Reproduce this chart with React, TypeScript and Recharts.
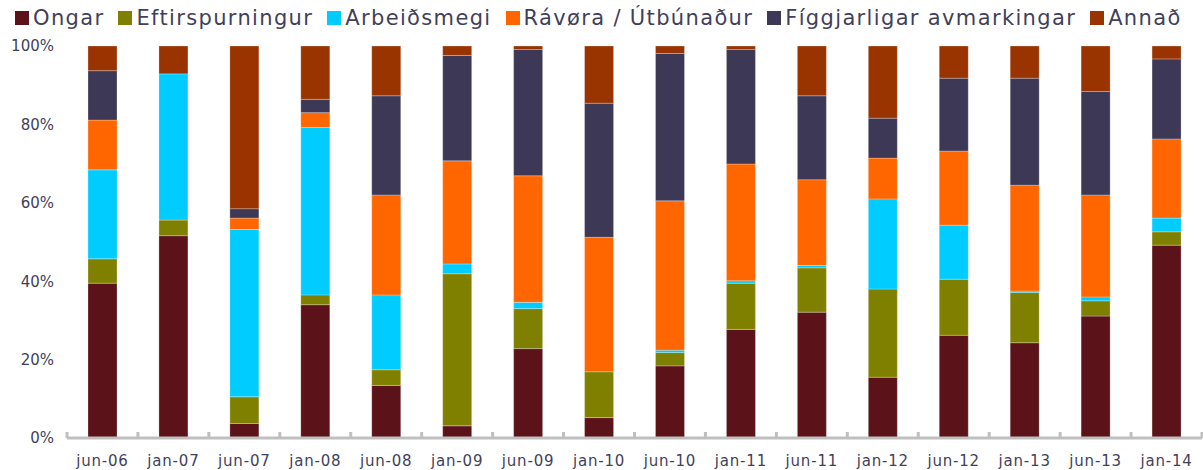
import React from 'react';
import { BarChart, Bar, XAxis, YAxis, Legend } from 'recharts';

const categories = ['jun-06', 'jan-07', 'jun-07', 'jan-08', 'jun-08', 'jan-09', 'jun-09', 'jan-10', 'jun-10', 'jan-11', 'jun-11', 'jan-12', 'jun-12', 'jan-13', 'jun-13', 'jan-14'];
const ongar = [39.5, 51.6, 3.7, 34.0, 13.4, 3.1, 22.8, 5.2, 18.4, 27.7, 32.1, 15.5, 26.2, 24.3, 31.1, 49.2];
const eftirspurningur = [6.2, 4.0, 6.8, 2.5, 4.0, 38.8, 10.2, 11.7, 3.4, 11.8, 11.3, 22.5, 14.3, 12.8, 3.9, 3.4];
const arbeidsmegi = [22.7, 37.3, 42.7, 42.7, 19.1, 2.5, 1.6, 0, 0.6, 0.6, 0.6, 23.0, 13.8, 0.4, 1.0, 3.5];
const ravora = [12.7, 0, 2.9, 3.8, 25.5, 26.3, 32.3, 34.3, 38.1, 29.8, 21.9, 10.4, 18.9, 27.0, 26.0, 20.2];
const figgjarligar = [12.6, 0, 2.4, 3.4, 25.3, 26.9, 32.2, 34.2, 37.6, 29.2, 21.4, 10.2, 18.6, 27.3, 26.4, 20.4];
const annad = [6.3, 7.1, 41.5, 13.6, 12.7, 2.4, 0.9, 14.6, 1.9, 0.9, 12.7, 18.4, 8.2, 8.2, 11.6, 3.3];
const yTicks = [0, 20, 40, 60, 80, 100];

const series = [
  { key: 'ongar', name: 'Ongar', color: '#5b1319', values: ongar },
  { key: 'eftir', name: 'Eftirspurningur', color: '#808000', values: eftirspurningur },
  { key: 'arb', name: 'Arbeiðsmegi', color: '#00ccff', values: arbeidsmegi },
  { key: 'rav', name: 'Rávøra / Útbúnaður', color: '#ff6600', values: ravora },
  { key: 'figg', name: 'Fíggjarligar avmarkingar', color: '#3c3856', values: figgjarligar },
  { key: 'annad', name: 'Annað', color: '#993300', values: annad },
];

const data = categories.map((c, i) => {
  const row: Record<string, any> = { cat: c };
  series.forEach((s) => { row[s.key] = s.values[i]; });
  return row;
});

const W = 1203;
const H = 470;
const Y_AXIS_W = 67;
const MARGIN_RIGHT = 1;
const PLOT_W = W - Y_AXIS_W - MARGIN_RIGHT;
const BAND = PLOT_W / categories.length;
const TEXT = '#423f5c';
const FONT = '"DejaVu Sans", sans-serif';
const TICK_MARGIN = 17;

const XTick = (props: any) => {
  const { x, y, payload, index } = props;
  const axisY = y - TICK_MARGIN;
  const tickLine = (tx: number) => (
    <line x1={tx} x2={tx} y1={axisY - 6} y2={axisY} stroke="#bfbfbf" strokeWidth={3} />
  );
  return (
    <g>
      {tickLine(x - BAND / 2)}
      {index === categories.length - 1 ? tickLine(x + BAND / 2) : null}
      <text x={x} y={y} dy="0.71em" textAnchor="middle" fill={TEXT} fontSize={15} fontFamily={FONT} letterSpacing={0.8}>
        {payload.value}
      </text>
    </g>
  );
};

const LegendContent = () => (
  <div style={{ height: 46, boxSizing: 'border-box', paddingTop: 8, paddingLeft: 15, display: 'flex', alignItems: 'flex-start', fontFamily: FONT }}>
    {series.map((s) => (
      <div key={s.key} style={{ display: 'flex', alignItems: 'center', height: 20, marginRight: 14 }}>
        <span style={{ display: 'inline-block', width: 14, height: 14, background: s.color, marginRight: 4 }} />
        <span style={{ fontSize: 21, color: TEXT, letterSpacing: 1.35, lineHeight: '20px', whiteSpace: 'nowrap' }}>{s.name}</span>
      </div>
    ))}
  </div>
);

export default function App() {
  return (
    <div style={{ position: 'absolute', left: 0, top: 0, width: W, height: H, background: '#fff', fontFamily: FONT }}>
      <BarChart width={W} height={H} data={data} margin={{ top: 0, right: MARGIN_RIGHT, bottom: 2, left: 0 }} barSize={29}>
        <Legend verticalAlign="top" align="left" content={<LegendContent />} />
        <YAxis
          type="number"
          domain={[0, 100]}
          ticks={yTicks}
          width={Y_AXIS_W}
          axisLine={false}
          tickLine={false}
          tickSize={0}
          tickMargin={13}
          tickFormatter={(v: number) => `${v}%`}
          tick={{ fill: TEXT, fontSize: 15, fontFamily: FONT }}
          interval={0}
        />
        <XAxis
          dataKey="cat"
          height={30}
          axisLine={{ stroke: '#bfbfbf', strokeWidth: 3 }}
          tickLine={false}
          tickSize={0}
          tickMargin={TICK_MARGIN}
          interval={0}
          tick={<XTick />}
        />
        {series.map((s) => (
          <Bar
            key={s.key}
            dataKey={s.key}
            name={s.name}
            stackId="a"
            fill={s.color}
            stroke="#ffffff"
            strokeOpacity={0.25}
            strokeWidth={1}
            isAnimationActive={false}
          />
        ))}
      </BarChart>
    </div>
  );
}
